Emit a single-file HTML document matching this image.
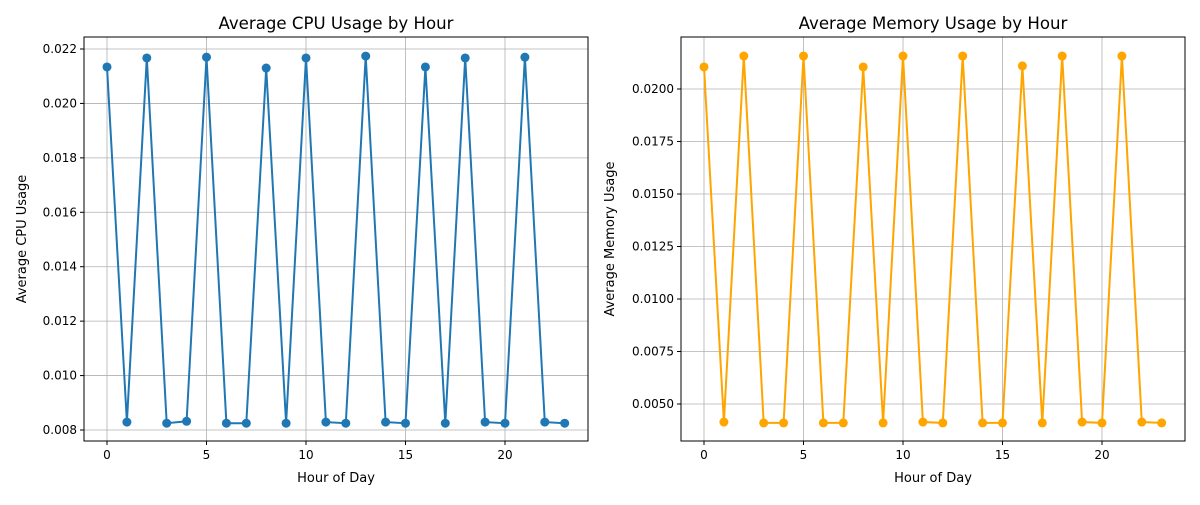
<!DOCTYPE html>
<html><head><meta charset="utf-8"><style>
body{margin:0;background:#fff;font-family:"Liberation Sans",sans-serif}
svg text{font-family:"DejaVu Sans","Liberation Sans",sans-serif}
</style></head><body>
<svg id="c" width="1200" height="500"></svg>
<script>
const hours=[0,1,2,3,4,5,6,7,8,9,10,11,12,13,14,15,16,17,18,19,20,21,22,23];
const cpuValues=[0.02134,0.00829,0.02167,0.00825,0.00832,0.0217,0.00825,0.00825,0.0213,0.00825,0.02167,0.00829,0.00825,0.02174,0.00829,0.00825,0.02134,0.00825,0.02167,0.00829,0.00825,0.0217,0.00829,0.00825];
const memValues=[0.02105,0.00414,0.02157,0.0041,0.0041,0.02157,0.0041,0.0041,0.02105,0.0041,0.02157,0.00414,0.0041,0.02157,0.0041,0.0041,0.0211,0.0041,0.02157,0.00414,0.0041,0.02157,0.00414,0.0041];
const xTicks=[0,5,10,15,20];
const cpuTicks=[0.008,0.010,0.012,0.014,0.016,0.018,0.020,0.022];
const cpuTickLabels=["0.008","0.010","0.012","0.014","0.016","0.018","0.020","0.022"];
const memTicks=[0.005,0.0075,0.01,0.0125,0.015,0.0175,0.02];
const memTickLabels=["0.0050","0.0075","0.0100","0.0125","0.0150","0.0175","0.0200"];
const NS="http://www.w3.org/2000/svg",svg=document.getElementById('c');
function mk(t,a,p){const e=document.createElementNS(NS,t);for(const k in a)e.setAttribute(k,a[k]);(p||svg).appendChild(e);return e;}
function panel(o){
  const g=mk('g',{});
  
  
  const L=o.L,R=o.L+504,T=37,B=441;
  const sx=v=>o.x0+(v)*(o.x20-o.x0)/20;
  const sy=v=>o.py0+(v-o.v0)*(o.py1-o.py0)/(o.v1-o.v0);
  xTicks.forEach(t=>{const x=sx(t);
    const gl=mk('line',{x1:x,x2:x,y1:T,y2:B,stroke:'#b0b0b0','stroke-width':0.8},g);
    
    mk('line',{x1:x,x2:x,y1:B,y2:B+4,stroke:'#000'},g);
    const tx=mk('text',{x:x,y:B+18,'text-anchor':'middle','font-size':12},g);tx.textContent=t;
    });
  o.ticks.forEach((t,i)=>{const y=sy(t);
    const gl=mk('line',{x1:L,x2:R,y1:y,y2:y,stroke:'#b0b0b0','stroke-width':0.8},g);
    
    mk('line',{x1:L-4,x2:L,y1:y,y2:y,stroke:'#000'},g);
    const tx=mk('text',{x:L-7,y:y+4,'text-anchor':'end','font-size':12},g);tx.textContent=o.labels[i];
    });
  const pts=hours.map((h,i)=>sx(h)+','+sy(o.vals[i])).join(' ');
  const pl=mk('polyline',{points:pts,fill:'none',stroke:o.color,'stroke-width':2},g);
  
  hours.forEach((h,i)=>{const c=mk('circle',{cx:sx(h),cy:sy(o.vals[i]),r:4.5,fill:o.color},g);
    });
  const fr=mk('rect',{x:L,y:T,width:504,height:404,fill:'none',stroke:'#000','stroke-width':1},g);
  
  const ti=mk('text',{x:L+252,y:29,'text-anchor':'middle','font-size':16.6},g);ti.textContent=o.title;
  
  const xl=mk('text',{x:L+252,y:482,'text-anchor':'middle','font-size':13},g);xl.textContent='Hour of Day';
  
  const yl=mk('text',{x:0,y:0,'text-anchor':'middle','font-size':13,transform:`translate(${o.yl},239) rotate(-90)`},g);yl.textContent=o.ylabel;
  
}
panel({name:'cpu-chart',L:84,x0:107,x20:505,v0:0.008,v1:0.022,py0:430,py1:49,ticks:cpuTicks,labels:cpuTickLabels,vals:cpuValues,color:'#1f77b4',title:'Average CPU Usage by Hour',ylabel:'Average CPU Usage',yl:26});
panel({name:'memory-chart',L:681,x0:704,x20:1102,v0:0.005,v1:0.02,py0:404,py1:89,ticks:memTicks,labels:memTickLabels,vals:memValues,color:'#ffa500',title:'Average Memory Usage by Hour',ylabel:'Average Memory Usage',yl:614});
</script>
</body></html>
